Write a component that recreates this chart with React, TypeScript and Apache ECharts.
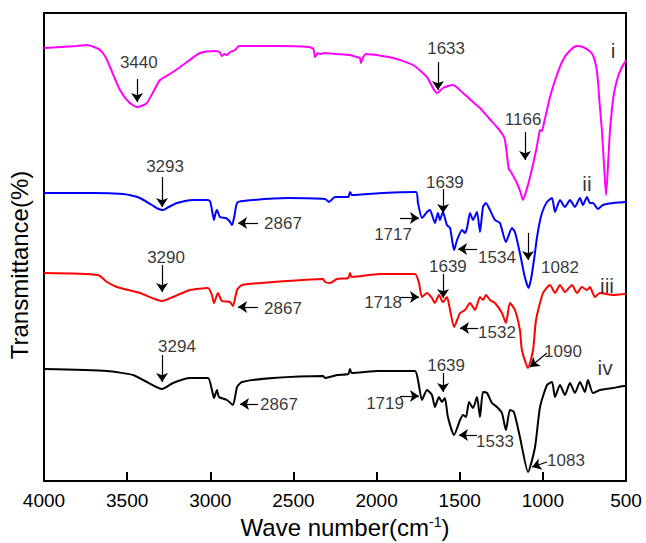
import React, { useEffect, useRef } from "react";
import * as echarts from "echarts";

const FONT = "'Liberation Sans', Arial, Helvetica, sans-serif";

// Wave number axis (cm-1), drawn from 4000 (left) to 500 (right)
const waveMin = 500;
const waveMax = 4000;
const waveStep = 500;

// Transmittance axis in arbitrary offset units (curves are stacked)
const transMin = 0;
const transMax = 468;

const curveNames = ["i", "ii", "iii", "iv"];
const curveColors = ["#ff00ff", "#0000ff", "#ff0000", "#000000"];

// [wave number, transmittance (a.u.)]
const spectrumI: [number, number][] = [
  [4000, 433], [3900, 434], [3800, 435], [3741, 436], [3700, 434], [3663, 431], [3630, 424],
  [3603, 414], [3543, 391], [3490, 379], [3441, 374], [3400, 376], [3381, 378], [3340, 390],
  [3302, 401], [3224, 409], [3140, 419], [3062, 428], [2978, 430], [2945, 429], [2930, 425],
  [2915, 427], [2900, 426], [2880, 429], [2851, 431], [2827, 435], [2600, 435], [2406, 434],
  [2380, 432], [2370, 424], [2355, 428], [2340, 427], [2310, 428], [2250, 427], [2160, 426],
  [2120, 424], [2100, 423], [2094, 418], [2080, 424], [2064, 427], [1900, 423], [1781, 416],
  [1697, 404], [1661, 393], [1637, 388], [1600, 393], [1570, 395], [1540, 396], [1480, 388],
  [1420, 379], [1400, 376], [1378, 373], [1320, 362], [1276, 354], [1240, 346], [1228, 341],
  [1215, 325], [1205, 312], [1195, 310], [1185, 307], [1156, 298], [1135, 289], [1120, 281],
  [1100, 290], [1077, 304], [1040, 331], [1025, 345], [1017, 351], [1005, 350], [1000, 353],
  [957, 384], [920, 404], [879, 421], [840, 430], [795, 435], [759, 434], [720, 430],
  [699, 426], [680, 415], [669, 401], [660, 380], [645, 351], [630, 310], [620, 286],
  [610, 310], [596, 351], [575, 385], [554, 401], [530, 412], [506, 419], [500, 421],
];

const spectrumII: [number, number][] = [
  [4000, 288], [3700, 288], [3525, 287], [3460, 285], [3423, 283], [3351, 276], [3310, 272],
  [3284, 271], [3250, 274], [3200, 278], [3104, 281], [3014, 281], [3000, 279], [2990, 271],
  [2978, 261], [2968, 268], [2960, 271], [2942, 264], [2906, 263], [2885, 260], [2869, 256],
  [2855, 265], [2839, 278], [2803, 280], [2533, 283], [2310, 282], [2286, 279], [2250, 284],
  [2170, 284], [2160, 289], [2148, 286], [1961, 288], [1763, 289], [1751, 278], [1727, 263],
  [1697, 269], [1679, 271], [1649, 258], [1631, 268], [1619, 261], [1601, 269], [1577, 256],
  [1558, 253], [1545, 240], [1534, 231], [1516, 241], [1486, 251], [1468, 248], [1456, 253],
  [1438, 268], [1420, 261], [1396, 269], [1378, 249], [1360, 274], [1342, 278], [1318, 271],
  [1288, 261], [1258, 258], [1222, 239], [1186, 253], [1168, 249], [1138, 228], [1110, 205],
  [1086, 193], [1070, 203], [1050, 225], [1035, 244], [1015, 262], [999, 271], [975, 279],
  [945, 283], [927, 269], [897, 281], [867, 274], [837, 281], [807, 274], [777, 283],
  [759, 276], [735, 284], [717, 278], [699, 278], [669, 272], [639, 276], [578, 278],
  [506, 279], [500, 280],
];

const spectrumIII: [number, number][] = [
  [4000, 208], [3675, 206], [3621, 199], [3561, 194], [3423, 188], [3290, 180], [3224, 184],
  [3122, 191], [3014, 193], [2990, 186], [2978, 178], [2954, 188], [2930, 180], [2882, 179],
  [2864, 175], [2839, 191], [2809, 196], [2623, 199], [2322, 202], [2310, 199], [2280, 198],
  [2238, 202], [2170, 203], [2160, 208], [2150, 204], [1979, 207], [1769, 207], [1745, 198],
  [1727, 184], [1697, 188], [1667, 183], [1649, 178], [1625, 186], [1601, 179], [1577, 184],
  [1558, 171], [1534, 154], [1498, 168], [1468, 171], [1438, 178], [1408, 171], [1378, 184],
  [1360, 181], [1342, 186], [1318, 181], [1288, 178], [1246, 168], [1222, 158], [1198, 178],
  [1168, 171], [1138, 151], [1126, 131], [1089, 113], [1059, 131], [1041, 161], [999, 188],
  [957, 196], [927, 188], [897, 196], [867, 189], [825, 196], [795, 188], [765, 194],
  [735, 191], [717, 194], [687, 184], [657, 188], [578, 186], [506, 187], [500, 187],
];

const spectrumIV: [number, number][] = [
  [4000, 112], [3621, 110], [3465, 106], [3381, 99], [3290, 92], [3224, 98], [3122, 103],
  [3014, 103], [2990, 91], [2978, 83], [2960, 91], [2948, 84], [2900, 81], [2864, 76],
  [2839, 94], [2809, 99], [2623, 103], [2322, 105], [2310, 103], [2238, 106], [2170, 107],
  [2160, 112], [2150, 108], [1990, 110], [1769, 110], [1751, 101], [1727, 81], [1697, 91],
  [1667, 86], [1649, 74], [1625, 84], [1607, 79], [1589, 83], [1571, 64], [1534, 46],
  [1498, 61], [1480, 66], [1462, 64], [1444, 79], [1420, 73], [1396, 84], [1378, 64],
  [1360, 89], [1336, 88], [1306, 78], [1276, 74], [1246, 68], [1222, 51], [1198, 71],
  [1174, 69], [1138, 44], [1089, 9], [1047, 34], [1017, 74], [975, 96], [945, 99],
  [927, 84], [897, 96], [867, 86], [837, 98], [807, 88], [777, 99], [747, 89], [729, 101],
  [699, 88], [657, 91], [578, 93], [506, 95], [500, 95],
];

// Peak annotations: label, label anchor, arrow start, arrow tip (data units)
type Note = { text: string; at: [number, number]; from: [number, number]; to: [number, number] };
const peakNotes: Note[] = [
  { text: "3440", at: [3430, 419], from: [3440, 402], to: [3440, 379] },
  { text: "1633", at: [1582, 433], from: [1631, 419], to: [1631, 391] },
  { text: "1166", at: [1119, 362], from: [1107, 349], to: [1107, 321] },
  { text: "3293", at: [3272, 315], from: [3290, 304], to: [3290, 274] },
  { text: "2867", at: [2563, 258], from: [2713, 258], to: [2833, 258] },
  { text: "1717", at: [1901, 247], from: [1859, 263], to: [1745, 263] },
  { text: "1639", at: [1589, 299], from: [1600, 292], to: [1600, 268] },
  { text: "1534", at: [1276, 224], from: [1396, 232], to: [1510, 232] },
  { text: "1082", at: [897, 214], from: [1089, 248], to: [1089, 221] },
  { text: "3290", at: [3266, 224], from: [3290, 216], to: [3290, 189] },
  { text: "2867", at: [2563, 173], from: [2713, 174], to: [2833, 174] },
  { text: "1718", at: [1961, 179], from: [1859, 184], to: [1745, 184] },
  { text: "1639", at: [1571, 215], from: [1600, 207], to: [1600, 183] },
  { text: "1532", at: [1276, 149], from: [1390, 153], to: [1498, 153] },
  { text: "1090", at: [879, 130], from: [975, 128], to: [1077, 114] },
  { text: "3294", at: [3200, 135], from: [3290, 126], to: [3290, 99] },
  { text: "2867", at: [2587, 77], from: [2713, 77], to: [2821, 77] },
  { text: "1639", at: [1582, 116], from: [1600, 108], to: [1600, 89] },
  { text: "1719", at: [1949, 78], from: [1859, 85], to: [1745, 85] },
  { text: "1533", at: [1288, 40], from: [1396, 46], to: [1504, 46] },
  { text: "1083", at: [861, 21], from: [975, 19], to: [1065, 14] },
];

// Curve tags i..iv: label anchor (data units)
const curveTagPositions: [number, number][] = [
  [578, 431],
  [735, 298],
  [614, 196],
  [626, 114],
];

const blackLine = { show: true, onZero: false, lineStyle: { color: "#000", width: 2 } };

export default function App() {
  const ref = useRef<HTMLDivElement>(null);

  useEffect(() => {
    if (!ref.current) return;
    const chart = echarts.init(ref.current, null, { renderer: "svg" });
    const spectra = [spectrumI, spectrumII, spectrumIII, spectrumIV];

    const labelData = [
      ...peakNotes.map((n) => ({
        value: n.at,
        label: { formatter: n.text, fontSize: 17 },
      })),
      ...curveTagPositions.map((p, i) => ({
        value: p,
        label: { formatter: curveNames[i], fontSize: 21 },
      })),
    ];

    chart.setOption({
      animation: false,
      textStyle: { fontFamily: FONT },
      grid: {
        left: 44,
        right: 20,
        top: 13,
        bottom: 62,
        containLabel: false,
        outerBoundsMode: "none",
      },
      xAxis: [
        {
          type: "value",
          inverse: true,
          min: waveMin,
          max: waveMax,
          interval: waveStep,
          position: "bottom",
          name: "Wave number(cm{sup|-1})",
          nameLocation: "middle",
          nameGap: 34,
          nameTextStyle: {
            color: "#000",
            fontSize: 24,
            fontFamily: FONT,
            padding: [0, 0, 0, 20],
            rich: {
              sup: { fontSize: 14, fontFamily: FONT, color: "#000", verticalAlign: "top", padding: [0, 0, 10, 0] },
            },
          },
          axisLine: blackLine,
          axisTick: { show: true, inside: true, length: 9, lineStyle: { color: "#000", width: 2 } },
          axisLabel: {
            show: true,
            color: "#000",
            fontSize: 19,
            fontFamily: FONT,
            margin: 10,
            showMinLabel: true,
            showMaxLabel: true,
            formatter: (v: number) => String(v),
          },
          splitLine: { show: false },
        },
        {
          type: "value",
          inverse: true,
          min: waveMin,
          max: waveMax,
          interval: waveStep,
          position: "top",
          axisLine: blackLine,
          axisTick: { show: false },
          axisLabel: { show: false },
          splitLine: { show: false },
        },
      ],
      yAxis: [
        {
          type: "value",
          min: transMin,
          max: transMax,
          position: "left",
          name: "Transmittance(%)",
          nameLocation: "middle",
          nameGap: 13,
          nameTextStyle: { color: "#000", fontSize: 24, fontFamily: FONT, padding: [0, 36, 0, 0] },
          axisLine: blackLine,
          axisTick: { show: false },
          axisLabel: { show: false },
          splitLine: { show: false },
        },
        {
          type: "value",
          min: transMin,
          max: transMax,
          position: "right",
          axisLine: blackLine,
          axisTick: { show: false },
          axisLabel: { show: false },
          splitLine: { show: false },
        },
      ],
      series: [
        ...spectra.map((d, i) => ({
          type: "line",
          name: curveNames[i],
          data: d,
          showSymbol: false,
          symbol: "none",
          smooth: 0.2,
          silent: true,
          lineStyle: { color: curveColors[i], width: 2 },
          itemStyle: { color: curveColors[i] },
          z: 2,
        })),
        {
          type: "scatter",
          name: "labels",
          data: labelData,
          symbolSize: 0,
          silent: true,
          itemStyle: { color: "rgba(0,0,0,0)" },
          label: {
            show: true,
            position: "inside",
            color: "#000",
            fontFamily: FONT,
            align: "center",
            verticalAlign: "middle",
          },
          z: 5,
          markLine: {
            silent: true,
            symbol: ["none", "arrow"],
            symbolSize: 9,
            label: { show: false },
            lineStyle: { color: "#000", width: 1.2, type: "solid" },
            emphasis: { disabled: true },
            data: peakNotes.map((n) => [{ coord: n.from }, { coord: n.to }]),
          },
        },
      ],
    });

    return () => chart.dispose();
  }, []);

  return (
    <div
      ref={ref}
      style={{ position: "absolute", left: 0, top: 0, width: 646, height: 543 }}
    />
  );
}
